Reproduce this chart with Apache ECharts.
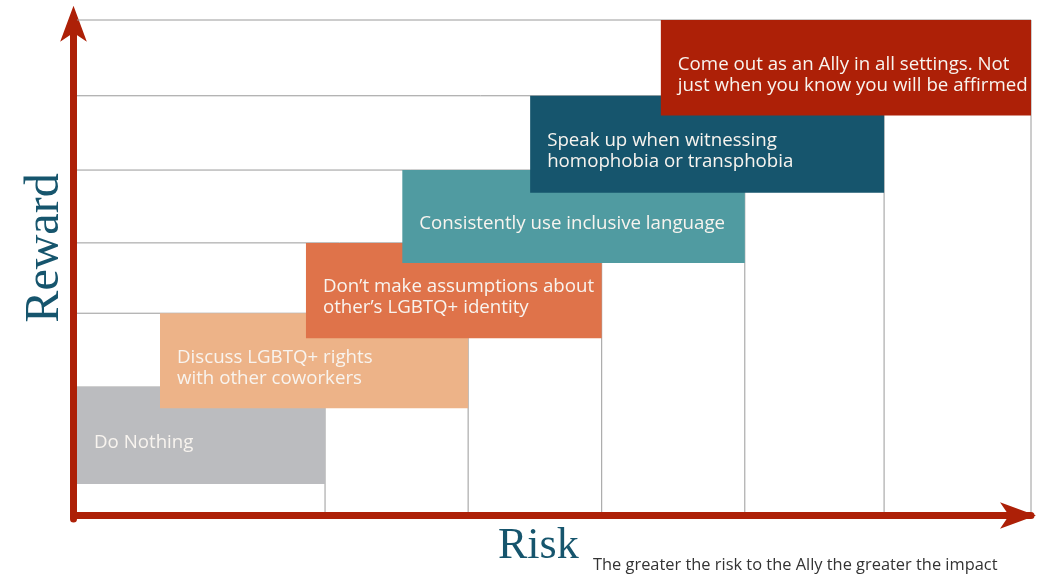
<!DOCTYPE html>
<html>
<head>
<meta charset="utf-8">
<script src="https://cdn.jsdelivr.net/npm/echarts@6/dist/echarts.min.js"></script>
<style>
  html, body { margin: 0; padding: 0; background: #fff; }
  #chart { width: 1038px; height: 575px; }
</style>
</head>
<body>
<div id="chart"></div>
<script>
  // step outlines (risk / reward, 0..100)
  var stepRisk = [26, 41, 55, 70, 84.6, 100]
  var stepReward = [25.4, 40.4, 54.7, 69.5, 84.6, 100]

  // actions, drawn in order
  var actions = [
    'Do Nothing',
    'Discuss LGBTQ+ rights\nwith other coworkers',
    'Don\u2019t make assumptions about\nother\u2019s LGBTQ+ identity',
    'Consistently use inclusive language',
    'Speak up when witnessing\nhomophobia or transphobia',
    'Come out as an Ally in all settings. Not\njust when you know you will be affirmed',
  ]
  var riskFrom = [0, 8.7, 24.0, 34.1, 47.5, 61.2]
  var riskTo = [26, 41, 55, 70, 84.6, 100]
  var rewardFrom = [5.7, 21.1, 35.3, 50.6, 64.9, 80.6]
  var rewardTo = [25.4, 40.4, 54.7, 69.5, 84.6, 100]
  var actionColors = ['#BBBCBF', '#EDB388', '#DF734A', '#509BA1', '#16556D', '#AD2007']

  var chart = echarts.init(document.getElementById('chart'))

  var stepData = []
  for (var i = 0; i < stepRisk.length; i++) {
    stepData.push([stepRisk[i], stepReward[i]])
  }
  var boxData = []
  for (var j = 0; j < actions.length; j++) {
    boxData.push([riskFrom[j], riskTo[j], rewardFrom[j], rewardTo[j]])
  }

  var red = '#AD2007'
  var textFont = '"Open Sans", "Noto Sans", sans-serif'

  var option = {
    backgroundColor: '#fff',
    animation: false,
    grid: { left: 77, top: 20, width: 954, bottom: 56 },
    xAxis: {
      type: 'value',
      min: 0,
      max: 100,
      offset: -3.5,
      splitLine: { show: false },
      axisTick: { show: false },
      axisLabel: { show: false },
      axisLine: {
        show: true,
        onZero: false,
        symbol: ['none', 'arrow'],
        symbolSize: [20, 36],
        symbolOffset: [0, 5],
        lineStyle: { color: red, width: 7 },
      },
    },
    yAxis: {
      type: 'value',
      min: -1.4228,
      max: 100,
      offset: 3.5,
      splitLine: { show: false },
      axisTick: { show: false },
      axisLabel: { show: false },
      axisLine: {
        show: true,
        onZero: false,
        symbol: ['none', 'arrow'],
        symbolSize: [20, 36],
        symbolOffset: [0, 14.3],
        lineStyle: { color: red, width: 7 },
      },
    },
    graphic: [
      {
        type: 'text',
        x: 45,
        y: 248,
        rotation: Math.PI / 2,
        style: {
          text: 'Reward',
          fill: '#16556D',
          font: '48px "Liberation Serif", "DejaVu Serif", serif',
          align: 'center',
          verticalAlign: 'middle',
        },
      },
      {
        type: 'text',
        x: 498,
        y: 546,
        style: {
          text: 'Risk',
          fill: '#16556D',
          font: '44px "Liberation Serif", "DejaVu Serif", serif',
          align: 'left',
          verticalAlign: 'middle',
        },
      },
      {
        type: 'text',
        x: 593,
        y: 565,
        style: {
          text: 'The greater the risk to the Ally the greater the impact',
          fill: '#333',
          font: '16.4px ' + textFont,
          align: 'left',
          verticalAlign: 'middle',
        },
      },
    ],
    series: [
      {
        name: 'steps',
        type: 'custom',
        silent: true,
        data: stepData,
        encode: { x: 0, y: 1 },
        renderItem: function (params, api) {
          var sx = api.value(0)
          var sy = api.value(1)
          var a = api.coord([0, sy])
          var b = api.coord([sx, sy])
          var c = api.coord([sx, 0])
          return {
            type: 'polyline',
            shape: { points: [a, b, c] },
            style: { stroke: '#9A9A9A', lineWidth: 1, fill: null },
          }
        },
      },
      {
        name: 'actions',
        type: 'custom',
        silent: true,
        data: boxData,
        encode: { x: [0, 1], y: [2, 3] },
        renderItem: function (params, api) {
          var tl = api.coord([api.value(0), api.value(3)])
          var br = api.coord([api.value(1), api.value(2)])
          var w = br[0] - tl[0]
          var h = br[1] - tl[1]
          return {
            type: 'group',
            children: [
              {
                type: 'rect',
                shape: { x: tl[0], y: tl[1], width: w, height: h },
                style: { fill: actionColors[params.dataIndex] },
              },
              {
                type: 'text',
                x: tl[0] + 17,
                y: tl[1] + h / 2 + 7,
                style: {
                  text: actions[params.dataIndex],
                  fill: '#F8F4EF',
                  font: '18.7px ' + textFont,
                  lineHeight: 21,
                  align: 'left',
                  verticalAlign: 'middle',
                },
              },
            ],
          }
        },
      },
    ],
  }
  chart.setOption(option)
</script>
</body>
</html>
